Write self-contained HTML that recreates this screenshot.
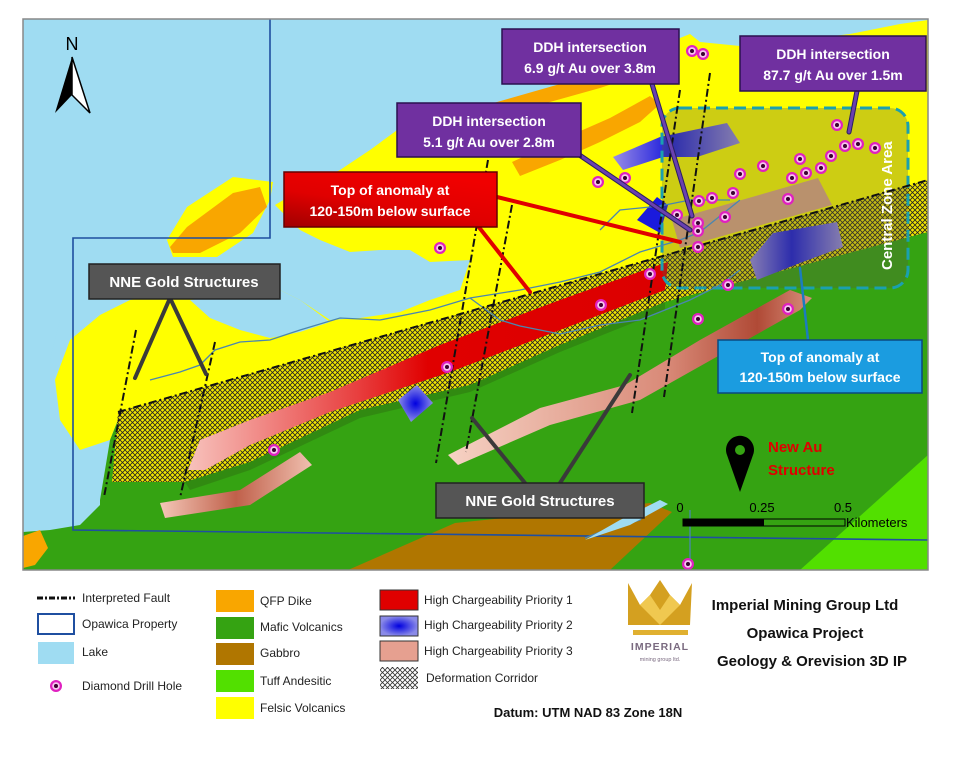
<!DOCTYPE html>
<html><head><meta charset="utf-8"><style>
html,body{margin:0;padding:0;background:#fff;width:980px;height:758px;overflow:hidden}
svg{display:block;font-family:"Liberation Sans",sans-serif}
</style></head><body>
<svg width="980" height="758" viewBox="0 0 980 758" xmlns="http://www.w3.org/2000/svg">
<defs>
<pattern id="hatch" width="5" height="5" patternUnits="userSpaceOnUse">
<rect width="5" height="5" fill="#f2e600"/>
<path d="M0,0L5,5M5,0L0,5" stroke="#222" stroke-width="0.8"/>
</pattern>
<pattern id="hatchL" width="5" height="5" patternUnits="userSpaceOnUse">
<rect width="5" height="5" fill="#fff"/>
<path d="M0,0L5,5M5,0L0,5" stroke="#333" stroke-width="0.8"/>
</pattern>
<linearGradient id="redg" x1="0" x2="1" y1="0" y2="0">
<stop offset="0" stop-color="#f7c2bc"/><stop offset="0.35" stop-color="#e84040"/><stop offset="0.5" stop-color="#e00000"/><stop offset="1" stop-color="#dc0000"/>
</linearGradient>
<linearGradient id="pinkg" x1="0" x2="1"><stop offset="0" stop-color="#f4c7b8"/><stop offset="0.5" stop-color="#c0604a"/><stop offset="1" stop-color="#f0c0b0"/></linearGradient>
<linearGradient id="pinkg2" x1="0" x2="1"><stop offset="0" stop-color="#f6d2c4"/><stop offset="0.6" stop-color="#d98a78"/><stop offset="0.85" stop-color="#b04a36"/><stop offset="1" stop-color="#d88f7c"/></linearGradient>
<linearGradient id="blueg" x1="0" x2="1"><stop offset="0" stop-color="#9a8de6"/><stop offset="0.45" stop-color="#1a1adc"/><stop offset="1" stop-color="#9a8ee0"/></linearGradient>
<radialGradient id="blueR"><stop offset="0" stop-color="#0000e0"/><stop offset="1" stop-color="#8a8ae8"/></radialGradient>
<linearGradient id="redbox" x1="0" y1="1" x2="0.6" y2="0"><stop offset="0" stop-color="#a00000"/><stop offset="0.5" stop-color="#e00000"/><stop offset="1" stop-color="#f00000"/></linearGradient>
<g id="dh"><circle r="6" fill="#e020c0"/><circle r="3.8" fill="#f6c8ef"/><circle r="2" fill="#3a0030"/></g>
</defs>

<!-- map background lake -->
<rect x="23" y="19" width="905" height="551" fill="#9fdcf2"/>
<!-- yellow felsic -->
<path d="M440,120 L470,112 L500,104 L530,96 L560,92 L600,80 L640,58 L665,44 L690,34 L700,42 L740,46 L800,40 L850,34 L880,28 L900,24 L928,20 L928,200 L118,420 L110,440 L80,450 L60,420 L55,380 L70,340 L100,315 L130,300 L165,295 L200,292 L240,295 L280,290 L300,300 L330,320 L360,318 L400,312 L430,300 L460,290 L470,260 L430,262 L410,250 L380,250 L350,252 L320,240 L300,230 L275,205 L300,190 L340,170 L370,150 L400,128 Z" fill="#ffff00"/>
<!-- lake intrusion in left yellow -->
<path d="M280,290 L300,300 L330,322 L300,332 L270,338 L240,330 L210,318 L190,300 Z" fill="#9fdcf2"/>
<path d="M40,300 L60,320 L50,360 L55,420 L75,450 L23,470 L23,300Z" fill="#9fdcf2"/>
<!-- left orange dike with halo -->
<path d="M167,240 L187,207 L233,177 L273,182 L270,200 L253,233 L217,257 L173,257 Z" fill="#ffff00"/>
<path d="M170,247 L187,227 L233,193 L260,187 L267,207 L240,233 L200,253 L173,253 Z" fill="#f9a600"/>
<!-- top orange dikes -->
<path d="M490,104 L560,84 L610,70 L640,60 L648,72 L600,88 L500,116 Z" fill="#f9a600"/>
<path d="M512,162 L560,140 L610,118 L650,96 L660,104 L640,122 L600,142 L560,160 L520,176 Z" fill="#f9a600"/>
<!-- green mafic -->
<path d="M118,420 L928,195 L928,570 L23,570 L23,530 L70,520 L100,500 L105,470 L110,440 Z" fill="#35a312"/>
<!-- left lake strip bottom -->
<path d="M23,465 L75,452 L100,480 L100,505 L80,525 L50,530 L23,532 Z" fill="#9fdcf2"/>
<path d="M23,536 L40,530 L48,548 L35,565 L23,568 Z" fill="#f9a600"/>
<!-- gabbro -->
<path d="M348,570 L455,523 L650,503 L672,512 L610,570 Z" fill="#b07600"/>
<!-- tuff -->
<path d="M800,570 L928,455 L928,570 Z" fill="#52e000"/>
<!-- property boundary -->
<path d="M270,19 L270,238 L73,238 L73,530 L928,540" fill="none" stroke="#1f4fa0" stroke-width="1.6"/>
<!-- hatched deformation corridor -->
<path d="M118,412 L928,180 L928,232 L665,302 L560,345 L470,385 L360,410 L250,462 L185,482 L112,482 Z" fill="url(#hatch)"/>
<path d="M185,482 L250,462 L360,410 L470,385 L560,345 L665,302 L665,310 L560,352 L470,392 L360,418 L250,470 L190,490 Z" fill="#2f7a10" opacity="0.6"/>
<!-- red priority 1 -->
<path d="M188,470 L200,440 L250,420 L330,392 L440,345 L560,300 L650,268 L668,262 L665,290 L560,330 L450,372 L360,402 L330,412 L250,445 L205,470 Z" fill="url(#redg)"/>
<!-- pink priority 3 -->
<path d="M160,503 L240,490 L300,452 L312,465 L250,505 L165,518 Z" fill="url(#pinkg)"/>
<path d="M448,455 L540,408 L625,385 L700,340 L790,290 L812,298 L800,310 L720,355 L640,400 L550,425 L458,465 Z" fill="url(#pinkg2)"/>
<path d="M672,220 L818,178 L832,205 L680,248 Z" fill="#e0a090" opacity="0.9"/>
<!-- blue priority 2 -->
<path d="M613,157 L660,137 L727,123 L740,143 L697,157 L663,157 L623,170 Z" fill="url(#blueg)"/>
<path d="M637,220 L657,197 L668,205 L660,233 Z" fill="#1a1add"/>
<path d="M750,260 L773,233 L837,222 L843,247 L800,263 L757,280 Z" fill="url(#blueg)"/>
<path d="M398,400 L417,385 L433,403 L411,422 Z" fill="url(#blueR)"/>
<!-- central zone area -->
<rect x="662" y="108" width="246" height="180" rx="18" fill="#5a5a40" fill-opacity="0.3" stroke="#1aa0b0" stroke-width="3" stroke-dasharray="12,6"/>
<text transform="translate(892,270) rotate(-90)" font-size="15" fill="#fff" font-weight="bold">Central Zone Area</text>
<!-- streams -->
<g fill="none" stroke="#4a86b0" stroke-width="1.3">
<path d="M150,380 L180,372 L200,365 L215,350 L240,342 L270,340 L300,330 L340,318 L380,320 L430,310 L470,298 L520,290 L560,282 L600,272 L640,252 L680,240 L700,232 L740,200"/>
<path d="M470,298 L500,320 L520,326 L560,334 L600,325 L640,320 L690,300 L720,285 L740,270"/>
<path d="M600,230 L620,210 L660,206 L690,200 L730,200"/>
<path d="M652,505 L640,520 L600,532 L585,538"/>
<path d="M690,510 L690,560"/>
</g>
<path d="M585,540 L620,520 L660,500 L668,504 L630,525 Z" fill="#9fdcf2"/>
<!-- faults -->
<g fill="none" stroke="#111" stroke-width="2" stroke-dasharray="8,3,2,3">
<path d="M118,412 L928,180"/>
<path d="M136,330 L104,497"/>
<path d="M215,342 L180,498"/>
<path d="M488,160 L436,463"/>
<path d="M512,205 L466,452"/>
<path d="M680,90 L632,413"/>
<path d="M710,73 L664,397"/>
</g>
<!-- drill holes -->
<g>
<use href="#dh" x="692" y="51"/><use href="#dh" x="703" y="54"/><use href="#dh" x="837" y="125"/><use href="#dh" x="845" y="146"/><use href="#dh" x="858" y="144"/><use href="#dh" x="875" y="148"/><use href="#dh" x="800" y="159"/><use href="#dh" x="831" y="156"/><use href="#dh" x="821" y="168"/><use href="#dh" x="806" y="173"/><use href="#dh" x="792" y="178"/><use href="#dh" x="763" y="166"/><use href="#dh" x="740" y="174"/><use href="#dh" x="733" y="193"/><use href="#dh" x="712" y="198"/><use href="#dh" x="699" y="201"/><use href="#dh" x="677" y="215"/><use href="#dh" x="698" y="223"/><use href="#dh" x="698" y="231"/><use href="#dh" x="698" y="247"/><use href="#dh" x="725" y="217"/><use href="#dh" x="788" y="199"/><use href="#dh" x="625" y="178"/><use href="#dh" x="598" y="182"/><use href="#dh" x="650" y="274"/><use href="#dh" x="728" y="285"/><use href="#dh" x="440" y="248"/><use href="#dh" x="601" y="305"/><use href="#dh" x="698" y="319"/><use href="#dh" x="788" y="309"/><use href="#dh" x="447" y="367"/><use href="#dh" x="274" y="450"/><use href="#dh" x="688" y="564"/>
</g>
<!-- connectors -->
<g stroke-linecap="round">
<path d="M575,152 L690,230" stroke="#2a2060" stroke-width="5"/><path d="M575,152 L690,230" stroke="#6a40b0" stroke-width="3"/>
<path d="M652,84 L692,216" stroke="#2a2060" stroke-width="5"/><path d="M652,84 L692,216" stroke="#6a40b0" stroke-width="3"/>
<path d="M857,91 L849,132" stroke="#2a2060" stroke-width="5"/><path d="M857,91 L849,132" stroke="#6a40b0" stroke-width="3"/>
<path d="M497,197 L680,242" stroke="#e00000" stroke-width="4"/>
<path d="M478,226 L530,292" stroke="#e00000" stroke-width="4"/>
<path d="M170,298 L135,378 M170,298 L206,374" stroke="#3a3a3a" stroke-width="4"/>
<path d="M525,483 L472,418 M560,483 L630,375" stroke="#3a3a3a" stroke-width="4"/>
<path d="M808,340 L800,268" stroke="#1b7cc0" stroke-width="2.5"/>
</g>
<!-- labels -->
<g font-weight="bold" text-anchor="middle">
<rect x="397" y="103" width="184" height="54" fill="#7030a0" stroke="#2a1050" stroke-width="1.5"/>
<text x="489" y="126" font-size="14" fill="#fff">DDH intersection</text>
<text x="489" y="147" font-size="14" fill="#fff">5.1 g/t Au over 2.8m</text>
<rect x="502" y="29" width="177" height="55" fill="#7030a0" stroke="#2a1050" stroke-width="1.5"/>
<text x="590" y="52" font-size="14" fill="#fff">DDH intersection</text>
<text x="590" y="73" font-size="14" fill="#fff">6.9 g/t Au over 3.8m</text>
<rect x="740" y="36" width="186" height="55" fill="#7030a0" stroke="#2a1050" stroke-width="1.5"/>
<text x="833" y="59" font-size="14" fill="#fff">DDH intersection</text>
<text x="833" y="80" font-size="14" fill="#fff">87.7 g/t Au over 1.5m</text>
<rect x="284" y="172" width="213" height="55" fill="url(#redbox)" stroke="#600" stroke-width="1.5"/>
<text x="390" y="195" font-size="14" fill="#fff">Top of anomaly at</text>
<text x="390" y="216" font-size="14" fill="#fff">120-150m below surface</text>
<rect x="89" y="264" width="191" height="35" fill="#555" stroke="#222" stroke-width="1.5"/>
<text x="184" y="287" font-size="15" fill="#fff">NNE Gold Structures</text>
<rect x="436" y="483" width="208" height="35" fill="#555" stroke="#222" stroke-width="1.5"/>
<text x="540" y="506" font-size="15" fill="#fff">NNE Gold Structures</text>
<rect x="718" y="340" width="204" height="53" fill="#1b9ce0" stroke="#0a4a80" stroke-width="1.5"/>
<text x="820" y="362" font-size="14" fill="#fff">Top of anomaly at</text>
<text x="820" y="382" font-size="14" fill="#fff">120-150m below surface</text>
</g>
<!-- north arrow -->
<text x="72" y="50" font-size="18" text-anchor="middle" fill="#000">N</text>
<path d="M72,57 L55,113 L72,95 Z" fill="#000"/>
<path d="M72,57 L90,113 L72,95 Z" fill="#fff" stroke="#000" stroke-width="1.5"/>
<!-- pin -->
<path d="M740,492 L727,455 A14,14 0 1 1 753,455 Z" fill="#000"/>
<circle cx="740" cy="450" r="5" fill="#35a312"/>
<text x="768" y="452" font-size="15" font-weight="bold" fill="#e00000">New Au</text>
<text x="768" y="475" font-size="15" font-weight="bold" fill="#e00000">Structure</text>
<!-- scale -->
<text x="680" y="512" font-size="13" text-anchor="middle">0</text>
<text x="762" y="512" font-size="13" text-anchor="middle">0.25</text>
<text x="843" y="512" font-size="13" text-anchor="middle">0.5</text>
<rect x="683" y="519" width="162" height="7" fill="#35a312" stroke="#000" stroke-width="1"/>
<rect x="683" y="519" width="81" height="7" fill="#000"/>
<text x="846" y="527" font-size="13">Kilometers</text>
<!-- frame -->
<rect x="23" y="19" width="905" height="551" fill="none" stroke="#888" stroke-width="1.5"/>

<!-- legend -->
<g font-size="12" fill="#222">
<path d="M37,598 L75,598" stroke="#111" stroke-width="3" stroke-dasharray="6,2,2,2"/>
<text x="82" y="602">Interpreted Fault</text>
<rect x="38" y="614" width="36" height="20" fill="#fff" stroke="#1f4fa0" stroke-width="2"/>
<text x="82" y="628">Opawica Property</text>
<rect x="38" y="642" width="36" height="22" fill="#9fdcf2"/>
<text x="82" y="656">Lake</text>
<use href="#dh" x="56" y="686"/>
<text x="82" y="690">Diamond Drill Hole</text>

<rect x="216" y="590" width="38" height="22" fill="#f9a600"/><text x="260" y="605">QFP Dike</text>
<rect x="216" y="617" width="38" height="22" fill="#35a312"/><text x="260" y="631">Mafic Volcanics</text>
<rect x="216" y="643" width="38" height="22" fill="#b07600"/><text x="260" y="657">Gabbro</text>
<rect x="216" y="670" width="38" height="22" fill="#52e000"/><text x="260" y="685">Tuff Andesitic</text>
<rect x="216" y="697" width="38" height="22" fill="#ffff00"/><text x="260" y="712">Felsic Volcanics</text>

<rect x="380" y="590" width="38" height="20" fill="#e00000" stroke="#333"/><text x="424" y="604">High Chargeability Priority 1</text>
<rect x="380" y="616" width="38" height="20" fill="url(#blueR)" stroke="#333"/><text x="424" y="629">High Chargeability Priority 2</text>
<rect x="380" y="641" width="38" height="20" fill="#e6a090" stroke="#333"/><text x="424" y="655">High Chargeability Priority 3</text>
<rect x="380" y="667" width="38" height="22" fill="url(#hatchL)"/><text x="426" y="682">Deformation Corridor</text>
</g>
<!-- logo -->
<path d="M628,583 L640,605 L650,595 L660,580 L670,595 L680,605 L692,583 L690,625 L628,625 Z" fill="#d4a020"/>
<path d="M640,605 L660,625 L680,605 L670,595 L660,610 L650,595 Z" fill="#f0c850"/>
<rect x="633" y="630" width="55" height="5" fill="#e0b030"/>
<text x="660" y="650" font-size="10.5" text-anchor="middle" fill="#7a6a80" font-weight="bold" letter-spacing="1">IMPERIAL</text>
<text x="660" y="661" font-size="5.5" text-anchor="middle" fill="#7a6a80">mining group ltd.</text>
<g font-weight="bold" text-anchor="middle" font-size="15" fill="#111">
<text x="805" y="610">Imperial Mining Group Ltd</text>
<text x="805" y="638">Opawica Project</text>
<text x="812" y="666">Geology &amp; Orevision 3D IP</text>
<text x="588" y="717" font-size="13">Datum: UTM NAD 83 Zone 18N</text>
</g>
</svg>
</body></html>
